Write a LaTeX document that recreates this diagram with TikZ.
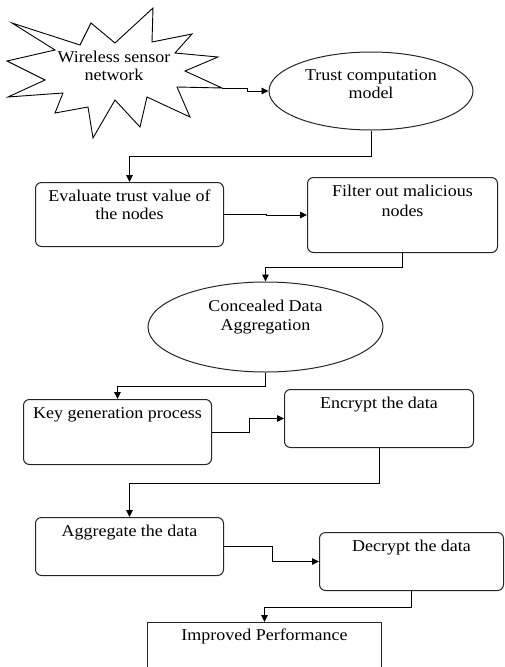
\documentclass[tikz,border=0pt]{standalone}
\usepackage{fontspec}
\setmainfont[FakeStretch=1.09]{Liberation Serif}
\usetikzlibrary{arrows.meta,shapes.geometric}
\begin{document}
\begin{tikzpicture}[x=1pt,y=-1pt,
  box/.style={draw=black!85, line width=1pt, rounded corners=6pt, inner sep=0pt, anchor=north west},
  sharpbox/.style={draw=black!85, line width=1pt, inner sep=0pt, anchor=north west},
  ell/.style={ellipse, draw=black!85, line width=1pt, inner sep=0pt},
  txt/.style={font=\fontsize{16.5}{18}\selectfont, align=center, inner sep=0pt},
  arr/.style={line width=0.9pt, -{Triangle[length=7pt,width=6.5pt]}},
  starline/.style={line width=0.9pt, line join=miter}
]
\useasboundingbox (0,0) rectangle (504,667);
\clip (0,0) rectangle (504,667);

% star
\draw[starline] (12,23) -- (80,45) -- (91,23) -- (115,43) -- (153,8) -- (152,42)
  -- (192,34) -- (175,53) -- (218,57) -- (185,71) -- (222,88) -- (177,87)
  -- (190,117) -- (147,97) -- (140,127) -- (115,100) -- (93,138) -- (88,107)
  -- (55,113) -- (63,93) -- (8,97) -- (45,80) -- (7,61) -- (55,50) -- cycle;
\coordinate (wsntip) at (222,88);
\node[txt] (wsn) at (114,65.5) {Wireless sensor\\network};

% shapes
\node[ell, minimum width=204pt, minimum height=78pt] (trust) at (371,91) {};
\node[txt] (trustt) at (371,84.5) {Trust computation\\model};

\node[box, minimum width=188pt, minimum height=64pt] (eval) at (35,182) {};
\node[txt, anchor=north] (evalt) at ([yshift=-8pt]eval.north) {Evaluate trust value of\\the nodes};

\node[box, minimum width=190pt, minimum height=75pt] (filter) at (307,177) {};
\node[txt, anchor=north] (filtert) at ([yshift=-8pt]filter.north) {Filter out malicious\\[1.5pt]nodes};

\node[ell, minimum width=235pt, minimum height=90pt] (conc) at (265.5,327) {};
\node[txt] (conct) at (265.5,317) {Concealed Data\\[1.5pt]Aggregation};

\node[box, minimum width=188pt, minimum height=65pt] (key) at (23,399) {};
\node[txt, anchor=north] (keyt) at ([yshift=-8pt]key.north) {Key generation process};

\node[box, minimum width=189pt, minimum height=58pt] (enc) at (284,389) {};
\node[txt, anchor=north] (enct) at ([yshift=-8pt]enc.north) {Encrypt the data};

\node[box, minimum width=188pt, minimum height=58pt] (agg) at (35,517) {};
\node[txt, anchor=north] (aggt) at ([yshift=-8pt]agg.north) {Aggregate the data};

\node[box, minimum width=184pt, minimum height=58pt] (dec) at (319,532) {};
\node[txt, anchor=north] (dect) at ([yshift=-8pt]dec.north) {Decrypt the data};

\node[sharpbox, minimum width=234pt, minimum height=80pt] (imp) at (147,622) {};
\node[txt, anchor=north] (impt) at ([yshift=-7pt]imp.north) {Improved Performance};

% connectors
\draw[arr] (wsntip) -- ++(25,0) |- (trust.west);
\draw[arr] (trust.south) -- ++(0,26) -| (eval.north);
\draw[arr] (eval.east) -- ++(42,0) |- (filter.west);
\draw[arr] (filter.south) -- ++(0,14) -| (conc.north);
\draw[arr] (conc.south) -- ++(0,14) -| (key.north);
\draw[arr] (key.east) -- ++(37,0) |- (enc.west);
\draw[arr] (enc.south) -- ++(0,35) -| (agg.north);
\draw[arr] (agg.east) -- ++(48,0) |- (dec.west);
\draw[arr] (dec.south) -- ++(0,16) -| (imp.north);
\end{tikzpicture}
\end{document}
